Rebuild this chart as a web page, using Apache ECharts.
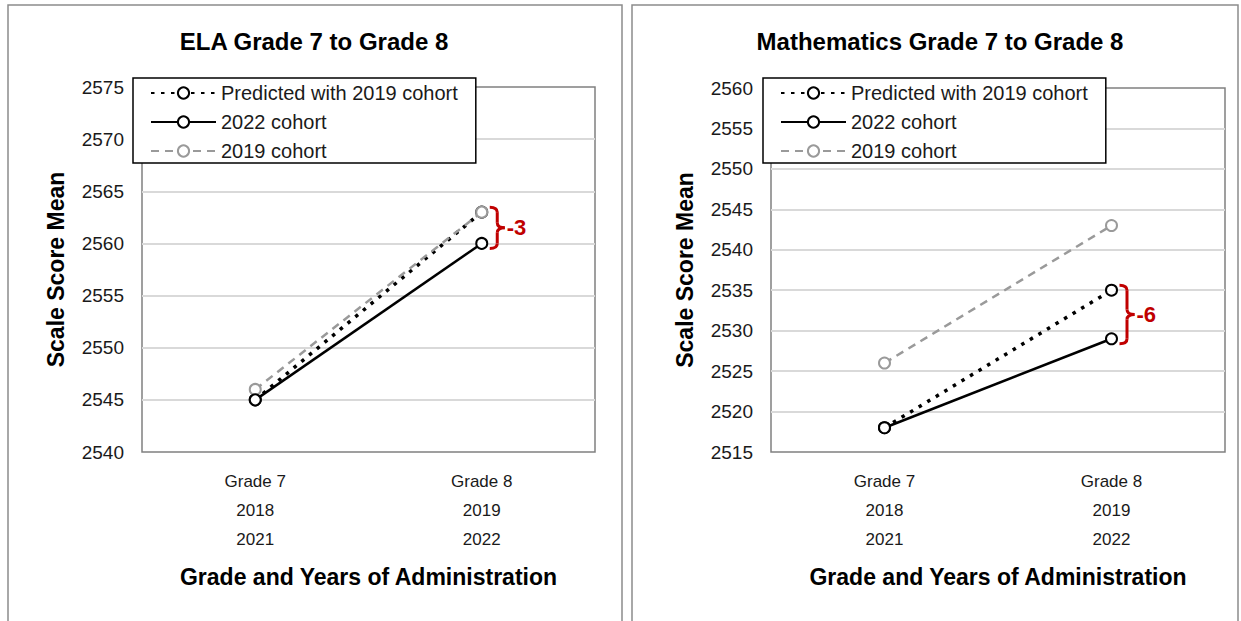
<!DOCTYPE html>
<html>
<head>
<meta charset="utf-8">
<script src="https://cdn.jsdelivr.net/npm/echarts@6.0.0/dist/echarts.min.js"></script>
<style>
  html, body { margin: 0; padding: 0; background: #fff; }
  #main { width: 1241px; height: 621px; }
</style>
</head>
<body>
<div id="main"></div>
<script>
// categories (grade / years)
var categories = ['Grade 7\n2018\n2021', 'Grade 8\n2019\n2022'];
var seriesNames = ['Predicted with 2019 cohort', '2022 cohort', '2019 cohort'];

// ELA scale score means
var elaPredicted = [2545, 2563];
var ela2022 = [2545, 2560];
var ela2019 = [2546, 2563];
var elaRange = [2540, 2575];

// Mathematics scale score means
var mathPredicted = [2518, 2535];
var math2022 = [2518, 2529];
var math2019 = [2526, 2543];
var mathRange = [2515, 2560];

// gaps shown with the red braces
var elaGap = '-3';
var mathGap = '-6';

var FONT = '"Liberation Sans", Arial, sans-serif';
var chart = echarts.init(document.getElementById('main'), null, { renderer: 'svg' });

function xAxisFor(gi) {
  return {
    type: 'category',
    gridIndex: gi,
    data: categories,
    axisLine: { show: false },
    axisTick: { show: false },
    axisLabel: { fontSize: 17, lineHeight: 29, color: '#1a1a1a', margin: 15, fontFamily: FONT },
    name: 'Grade and Years of Administration',
    nameLocation: 'middle',
    nameGap: 113,
    nameTextStyle: { fontSize: 23, fontWeight: 'bold', color: '#000', fontFamily: FONT }
  }
}

function yAxisFor(gi, range) {
  return {
    type: 'value',
    gridIndex: gi,
    min: range[0],
    max: range[1],
    interval: 5,
    axisLine: { show: false },
    axisTick: { show: false },
    splitLine: { showMinLine: false, showMaxLine: false, lineStyle: { color: '#d9d9d9', width: 2 } },
    axisLabel: {
      fontSize: 19, color: '#1a1a1a', margin: 18, fontFamily: FONT,
      formatter: function (v) { return String(v) }
    },
    name: 'Scale Score Mean',
    nameLocation: 'middle',
    nameRotate: 90,
    nameGap: 75,
    nameTextStyle: { fontSize: 23, fontWeight: 'bold', color: '#000', fontFamily: FONT }
  }
}

// one line series, styled by kind
function lineSeries(gi, kind, data) {
  var s = {
    type: 'line',
    xAxisIndex: gi,
    yAxisIndex: gi,
    data: data,
    symbol: 'emptyCircle',
    symbolSize: 11,
    silent: true,
    emphasis: { disabled: true }
  }
  if (kind === 0) {
    s.name = seriesNames[0]
    s.z = 2
    s.lineStyle = { color: '#000', width: 3.5, type: [3.5, 6.5] }
    s.itemStyle = { color: '#000', borderWidth: 2.5 }
  } else if (kind === 1) {
    s.name = seriesNames[1]
    s.z = 4
    s.lineStyle = { color: '#000', width: 2.5 }
    s.itemStyle = { color: '#000', borderWidth: 2.5 }
  } else {
    s.name = seriesNames[2]
    s.z = 3
    s.lineStyle = { color: '#9a9a9a', width: 2.5, type: [8, 6] }
    s.itemStyle = { color: '#9a9a9a', borderWidth: 2.5 }
  }
  return s
}

function legendAt(left) {
  return {
    data: seriesNames,
    orient: 'vertical',
    left: left,
    top: 78,
    itemWidth: 65,
    itemHeight: 14,
    itemGap: 7,
    padding: [4, 18, 1, 17],
    backgroundColor: '#fff',
    borderColor: '#000',
    borderWidth: 1.5,
    borderRadius: 0,
    selectedMode: false,
    textStyle: { fontSize: 20, lineHeight: 22, color: '#1a1a1a', fontFamily: FONT }
  }
}

var titleStyle = { fontSize: 24, fontWeight: 'bold', color: '#000', fontFamily: FONT, lineHeight: 28 };

chart.setOption({
  animation: false,
  title: [
    { text: 'ELA Grade 7 to Grade 8', left: 314, top: 27, textAlign: 'center', padding: 0, textStyle: titleStyle },
    { text: 'Mathematics Grade 7 to Grade 8', left: 940, top: 27, textAlign: 'center', padding: 0, textStyle: titleStyle }
  ],
  grid: [
    { left: 142, top: 87, width: 453, height: 365, show: true, borderColor: '#808080', borderWidth: 1.5, outerBoundsMode: 'none' },
    { left: 771, top: 88, width: 454, height: 364, show: true, borderColor: '#808080', borderWidth: 1.5, outerBoundsMode: 'none' }
  ],
  legend: [legendAt(133), legendAt(763)],
  xAxis: [xAxisFor(0), xAxisFor(1)],
  yAxis: [yAxisFor(0, elaRange), yAxisFor(1, mathRange)],
  series: [
    lineSeries(0, 0, elaPredicted),
    lineSeries(0, 1, ela2022),
    lineSeries(0, 2, ela2019),
    lineSeries(1, 0, mathPredicted),
    lineSeries(1, 1, math2022),
    lineSeries(1, 2, math2019)
  ]
})

// red curly brace next to the Grade 8 points
function brace(gi, topVal, botVal, label) {
  var pTop = chart.convertToPixel({ gridIndex: gi }, [1, topVal])
  var pBot = chart.convertToPixel({ gridIndex: gi }, [1, botVal])
  var x = pTop[0] + 8
  var w = 15
  var yT = pTop[1] - 5
  var yB = pBot[1] + 5
  var xm = x + w / 2
  var ym = (yT + yB) / 2
  var r = Math.min(5, (yB - yT) / 5)
  var st = { stroke: '#c00000', lineWidth: 3, fill: 'none' }
  return [
    { type: 'bezierCurve', shape: { x1: x, y1: yT, cpx1: xm, cpy1: yT, x2: xm, y2: yT + r }, style: st, silent: true, z: 10 },
    { type: 'line', shape: { x1: xm, y1: yT + r, x2: xm, y2: ym - r }, style: st, silent: true, z: 10 },
    { type: 'bezierCurve', shape: { x1: xm, y1: ym - r, cpx1: xm, cpy1: ym, x2: x + w, y2: ym }, style: st, silent: true, z: 10 },
    { type: 'bezierCurve', shape: { x1: x + w, y1: ym, cpx1: xm, cpy1: ym, x2: xm, y2: ym + r }, style: st, silent: true, z: 10 },
    { type: 'line', shape: { x1: xm, y1: ym + r, x2: xm, y2: yB - r }, style: st, silent: true, z: 10 },
    { type: 'bezierCurve', shape: { x1: xm, y1: yB - r, cpx1: xm, cpy1: yB, x2: x, y2: yB }, style: st, silent: true, z: 10 },
    {
      type: 'text', x: x + w + 2, y: ym, silent: true, z: 10,
      style: { text: label, fill: '#c00000', font: 'bold 22px ' + FONT, textAlign: 'left', textVerticalAlign: 'middle' }
    }
  ]
}

var panelStyle = { fill: 'none', stroke: '#8c8c8c', lineWidth: 1.5 };
var graphics = [
  { type: 'rect', shape: { x: 8, y: 5, width: 614, height: 640 }, style: panelStyle, silent: true, z: -1 },
  { type: 'rect', shape: { x: 632, y: 5, width: 606, height: 640 }, style: panelStyle, silent: true, z: -1 }
]
graphics = graphics.concat(brace(0, ela2019[1], ela2022[1], elaGap))
graphics = graphics.concat(brace(1, mathPredicted[1], math2022[1], mathGap))
chart.setOption({ graphic: graphics })
</script>
</body>
</html>
